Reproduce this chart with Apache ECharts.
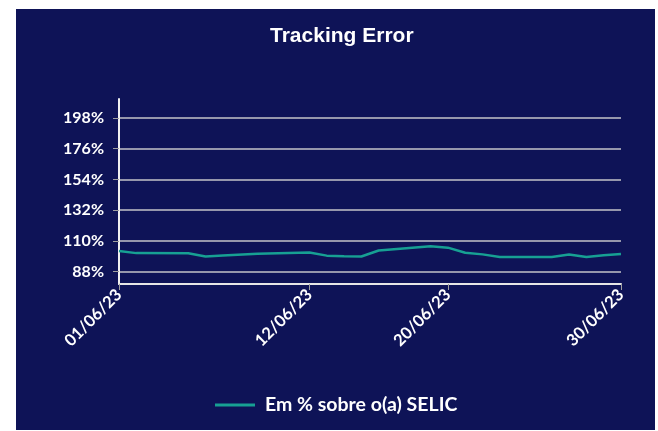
<!DOCTYPE html>
<html>
<head>
<meta charset="utf-8">
<script src="https://cdn.jsdelivr.net/npm/echarts@6/dist/echarts.min.js"></script>
<style>
  html, body { margin: 0; padding: 0; background: #fff; }
  #chart { width: 658px; height: 431px; }
</style>
</head>
<body>
<div id="chart"></div>
<script>
// datas (dias úteis de junho/2023)
const dates = ['2023-06-01', '2023-06-02', '2023-06-05', '2023-06-06', '2023-06-07', '2023-06-09',
  '2023-06-12', '2023-06-13', '2023-06-14', '2023-06-15', '2023-06-16', '2023-06-19',
  '2023-06-20', '2023-06-21', '2023-06-22', '2023-06-23', '2023-06-26', '2023-06-27',
  '2023-06-28', '2023-06-29', '2023-06-30'];
const selicPct = [102.8, 101.3, 101.2, 98.9, 99.6, 100.9,
  101.8, 99.5, 99.1, 98.9, 103.2, 106.3,
  105.2, 101.6, 100.4, 98.6, 98.6, 100.3,
  98.6, 99.8, 100.7];
const yTicks = [88, 110, 132, 154, 176, 198];
const xTickDates = ['2023-06-01', '2023-06-12', '2023-06-20', '2023-06-30'];

const DAY = 86400000;
const toMs = (s) => {
  const p = s.split('-');
  return Date.UTC(+p[0], +p[1] - 1, +p[2]);
};
const pad = (n) => (n < 10 ? '0' + n : '' + n);
const fmtDate = (v) => {
  const d = new Date(Math.round(v / DAY) * DAY);
  return pad(d.getUTCDate()) + '/' + pad(d.getUTCMonth() + 1) + '/' + String(d.getUTCFullYear()).slice(2);
};

const navy = '#0e1357';
const teal = '#17a093';
const labelFont = 'Lato, "Open Sans", sans-serif';

const chart = echarts.init(document.getElementById('chart'));
chart.setOption({
  animation: false,
  backgroundColor: '#fff',
  graphic: [{
    type: 'rect',
    z: -10,
    shape: { x: 16, y: 9, width: 639, height: 421 },
    style: { fill: navy }
  }],
  title: {
    text: 'Tracking Error',
    left: 265,
    top: 21,
    textStyle: {
      color: '#fff',
      fontFamily: '"Liberation Sans", Arial, sans-serif',
      fontWeight: 'bold',
      fontSize: 21
    }
  },
  legend: {
    left: 210,
    top: 390,
    icon: 'rect',
    itemWidth: 40,
    itemHeight: 3,
    textStyle: {
      color: '#fff',
      fontFamily: labelFont,
      fontWeight: 'bold',
      fontSize: 19.5,
      padding: [0, 0, 0, 5]
    }
  },
  grid: { left: 119, right: 37, top: 99, bottom: 147, containLabel: false },
  xAxis: {
    type: 'value',
    min: toMs(dates[0]),
    max: toMs(dates[dates.length - 1]),
    axisLine: { show: true, lineStyle: { color: '#e6e6e6', width: 2 } },
    axisTick: {
      show: true,
      length: 6,
      lineStyle: { color: '#a0a0a0', width: 1 },
      customValues: xTickDates.map(toMs)
    },
    axisLabel: {
      color: '#fff',
      fontFamily: labelFont,
      fontWeight: 'bold',
      fontSize: 16.5,
      rotate: 45,
      margin: 8,
      customValues: xTickDates.map(toMs),
      formatter: fmtDate
    },
    splitLine: { show: false }
  },
  yAxis: {
    type: 'value',
    min: 79.2,
    max: 211.6,
    axisLine: { show: true, lineStyle: { color: '#f0f0f0', width: 2 } },
    axisTick: {
      show: true,
      length: 6,
      lineStyle: { color: '#a0a0a0', width: 1 },
      customValues: yTicks
    },
    axisLabel: {
      color: '#fff',
      fontFamily: labelFont,
      fontWeight: 'bold',
      fontSize: 16,
      margin: 15,
      customValues: yTicks,
      formatter: (v) => v + '%'
    },
    splitLine: { show: true, lineStyle: { color: '#c4c4c8', width: 1.5 } }
  },
  series: [{
    name: 'Em % sobre o(a) SELIC',
    type: 'line',
    showSymbol: false,
    symbol: 'none',
    data: dates.map((d, i) => [toMs(d), selicPct[i]]),
    lineStyle: { color: teal, width: 2.5 },
    itemStyle: { color: teal }
  }]
});
</script>
</body>
</html>
